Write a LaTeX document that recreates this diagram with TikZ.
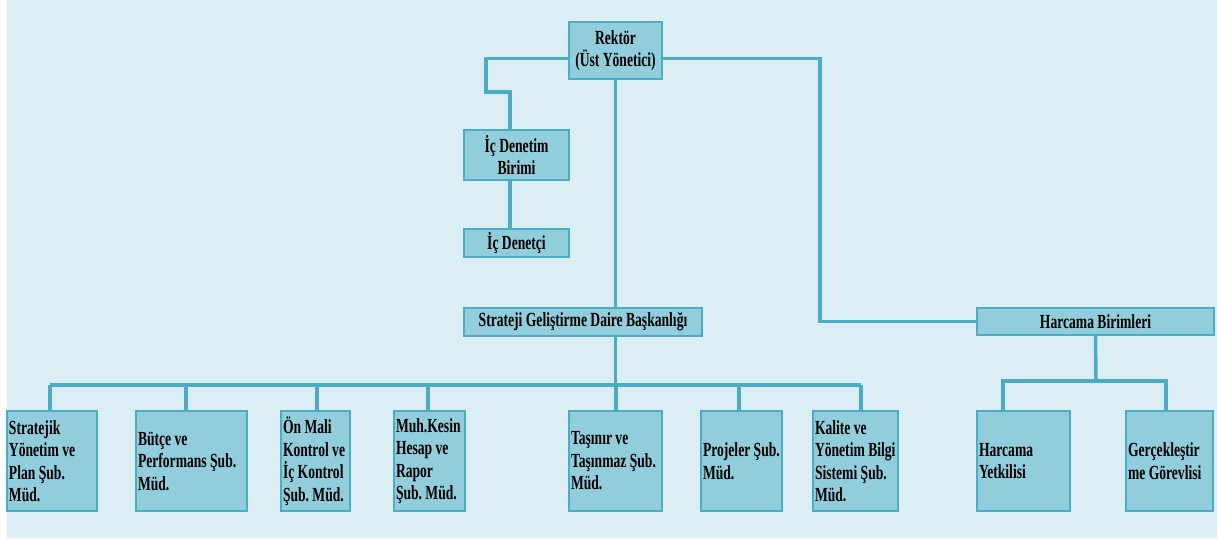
\documentclass[tikz,border=0pt]{standalone}
\usepackage{fontspec}
\setmainfont{Liberation Serif}[FakeStretch=0.68]
\usetikzlibrary{backgrounds}
\definecolor{panel}{HTML}{DBEEF4}
\definecolor{boxfill}{HTML}{92CDDC}
\definecolor{linecol}{HTML}{4BACC6}
\tikzset{
  box/.style={draw=linecol, fill=boxfill, line width=1.5pt, inner xsep=2pt, inner ysep=1pt,
    font=\fontsize{20}{22.5}\selectfont\bfseries, align=center},
  sub/.style={box, align=flush left, minimum height=100pt},
  link/.style={draw=linecol, line width=3.5pt}
}
\begin{document}
\begin{tikzpicture}[x=1pt,y=-1pt]
\useasboundingbox (0,0) rectangle (1217,540);

\node[box, minimum width=93pt, minimum height=57pt] (rektor) at (615.5,50.5) {Rektör\\(Üst Yönetici)};
\node[box, minimum width=105pt, minimum height=50pt] (icdb) at (516.5,155) {İç Denetim\\Birimi};
\node[box, minimum width=105pt, minimum height=28pt] (icd) at (516.5,243) {İç Denetçi};
\node[box, minimum width=238pt, minimum height=28pt] (sgdb) at (583,322) {Strateji Geliştirme Daire Başkanlığı};
\node[box, minimum width=237pt, minimum height=27pt] (harb) at (1095.5,321.5) {Harcama Birimleri};

\node[sub, text width=86pt] (s1) at (52,461) {Stratejik\\Yönetim~ve\\Plan~Şub.\\Müd.};
\node[sub, text width=107pt] (s2) at (191.5,461) {Bütçe~ve\\Performans~Şub.\\Müd.};
\node[sub, text width=65pt] (s3) at (315.5,461) {Ön~Mali\\Kontrol~ve\\İç~Kontrol\\Şub.~Müd.};
\node[sub, text width=67pt] (s4) at (429.5,461) {Muh.Kesin\\Hesap~ve\\Rapor\\Şub.~Müd.};
\node[sub, text width=89pt] (s5) at (615.5,461) {Taşınır~ve\\Taşınmaz~Şub.\\Müd.};
\node[sub, text width=77pt] (s6) at (741.5,461) {Projeler~Şub.\\Müd.};
\node[sub, text width=81pt] (s7) at (855.5,461) {Kalite~ve\\Yönetim~Bilgi\\Sistemi~Şub.\\Müd.};
\node[sub, text width=89pt] (h1) at (1023.5,461) {Harcama\\Yetkilisi};
\node[sub, text width=83pt] (h2) at (1169.5,461) {Gerçekleştir\\me~Görevlisi};

\coordinate (bus) at (614,385);
\coordinate (rc) at (820,321.5);
\coordinate (hbus) at (1096,381);

\begin{scope}[on background layer]
  \fill[panel] (7,0) rectangle (1217,538);
  % Rektor to ic denetim
  \draw[link] ([yshift=-8pt]rektor.west) -| (486,92) -| ([xshift=-6.5pt]icdb.north);
  \draw[link] ([xshift=-6.5pt]icdb.south) -- ([xshift=-6.5pt]icd.north);
  % Rektor to strateji and the bus
  \draw[link] (rektor.south) -- (rektor.south |- bus);
  \draw[link] ([xshift=-2pt]s1.north |- bus) -- ([xshift=5.5pt]s7.north |- bus);
  \foreach \n/\d in {s1/-2,s2/-5.5,s3/1.5,s4/-1.5,s5/0.5,s6/-2.5,s7/5.5}
  {
    \draw[link] ([xshift=\d pt]\n.north |- bus) -- ([xshift=\d pt]\n.north);
  }
  % Rektor to harcama birimleri
  \draw[link] ([yshift=-8pt]rektor.east) -| (rc) -- (harb.west);
  \draw[link] (harb.south) -- (hbus);
  \draw[link] ([xshift=-20.5pt]h1.north) |- (hbus) -| ([xshift=-3.5pt]h2.north);
\end{scope}

\end{tikzpicture}
\end{document}
